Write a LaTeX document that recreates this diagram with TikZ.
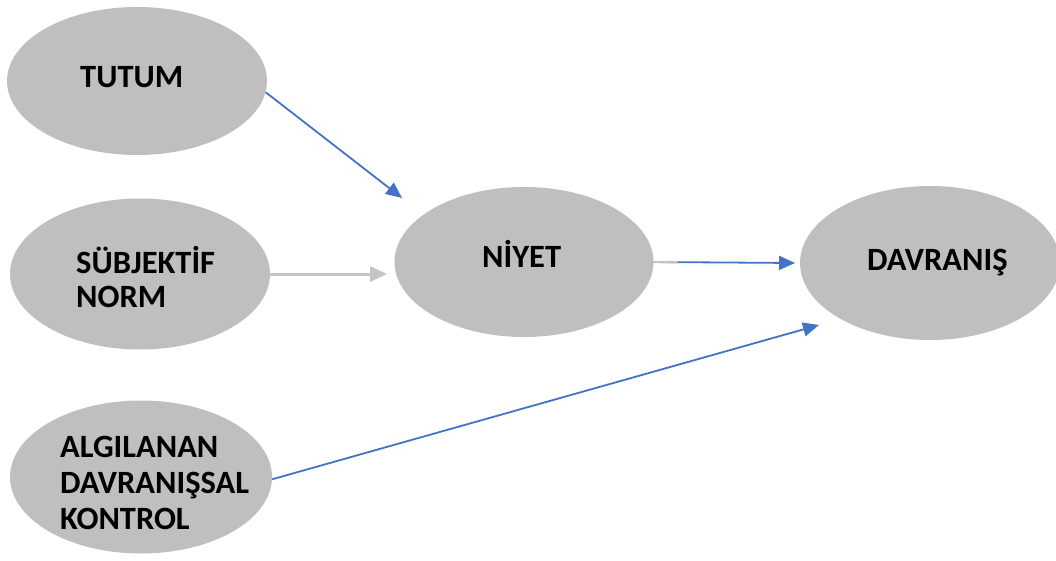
\documentclass[tikz,border=0pt]{standalone}
\usepackage{fontspec}
\setmainfont{Carlito}
\usetikzlibrary{shapes.geometric,arrows.meta,calc}
\definecolor{ellgray}{RGB}{191,191,191}
\definecolor{arrblue}{RGB}{68,114,196}
\definecolor{arrgray}{RGB}{196,196,196}
\begin{document}
\begin{tikzpicture}[x=1pt,y=-1pt,
  oval/.style={ellipse, fill=ellgray, draw=none, inner sep=0pt},
  lbl/.style={anchor=base west, inner sep=0pt, font=\fontsize{32.5}{36}\selectfont\bfseries, text=black},
  bluearrow/.style={draw=arrblue, line width=1.8pt, -{Triangle[length=16pt,width=14pt]}},
  grayarrow/.style={draw=arrgray, line width=3pt, -{Triangle[length=17pt,width=15pt]}}]
\useasboundingbox (0,0) rectangle (1056,561);
% ellipses
\node[oval, minimum width=260pt, minimum height=148pt] (tutum) at (137,81) {};
\node[oval, minimum width=260pt, minimum height=151pt] (sub) at (140,274) {};
\node[oval, minimum width=262pt, minimum height=153pt] (alg) at (141,477) {};
\node[oval, minimum width=259pt, minimum height=150pt] (niyet) at (524,262) {};
\node[oval, minimum width=260pt, minimum height=154pt] (davr) at (930,263) {};
% labels
\node[lbl] (tutumtxt) at (80,88) {TUTUM};
\node[lbl] (subtxta) at (76,273) {SÜBJEKTİF};
\node[lbl] (subtxtb) at (76,307) {NORM};
\node[lbl] (algtxta) at (60,457) {ALGILANAN};
\node[lbl] (algtxtb) at (60,493) {DAVRANIŞSAL};
\node[lbl] (algtxtc) at (60,529) {KONTROL};
\node[lbl] (niyettxt) at (482,267) {NİYET};
\node[lbl] (davrtxt) at (867,270) {DAVRANIŞ};
% free arrow ends
\coordinate (t2n) at (402,198);
\coordinate (s2n) at (387,274);
\coordinate (n2d) at (795,263);
\coordinate (a2d) at (819,325);
% connectors
\draw[bluearrow] (tutum.-5) -- (t2n);
\draw[grayarrow] (sub.east) -- (s2n);
\draw[bluearrow] (niyet.east) -- (n2d);
\draw[draw=arrgray, line width=2.4pt] (niyet.east) -- ($(niyet.east)!0.17!(n2d)$);
\draw[bluearrow] (alg.-1) -- (a2d);
\end{tikzpicture}
\end{document}
